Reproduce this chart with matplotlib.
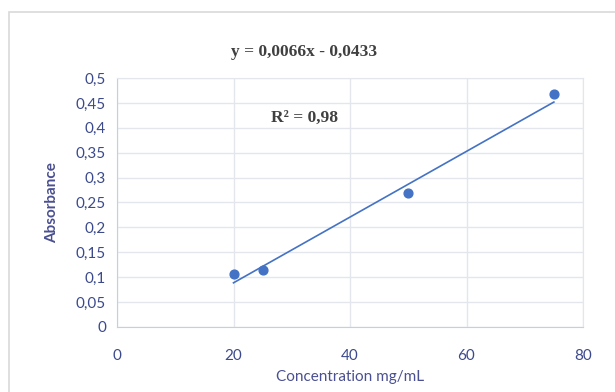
import matplotlib
matplotlib.use("Agg")
import matplotlib.pyplot as plt
from matplotlib.ticker import FuncFormatter, MultipleLocator
from matplotlib.patches import Rectangle

concentration = [20, 25, 50, 75]
absorbance = [0.107, 0.115, 0.270, 0.468]
slope = 0.0066
intercept = -0.0433
r2_label = "R² = 0,98"
eq_label = "y = 0,0066x - 0,0433"
x_label = "Concentration mg/mL"
y_label = "Absorbance"

fig = plt.figure(figsize=(6.15, 3.92), dpi=100)
fig.patches.append(Rectangle((9/615, -0.05), 1.0, 1 - 12/392 + 0.05, transform=fig.transFigure,
                             fill=False, edgecolor="#d9d9d9", linewidth=1.2))
ax = fig.add_axes([117/615, 1 - 327/392, (583-117)/615, (327-78)/392])

blue = "#4472C4"
ax.scatter(concentration, absorbance, s=40, color=blue, zorder=3)
xf = [min(concentration), max(concentration)]
ax.plot(xf, [slope*v + intercept for v in xf], color=blue, linewidth=1.2, zorder=2)

ax.set_xlim(0, 80)
ax.set_ylim(0, 0.5)
ax.xaxis.set_major_locator(MultipleLocator(20))
ax.yaxis.set_major_locator(MultipleLocator(0.05))
fmt = FuncFormatter(lambda v, p: ("%g" % round(v, 4)).replace(".", ","))
ax.xaxis.set_major_formatter(fmt)
ax.yaxis.set_major_formatter(fmt)
ax.grid(True, color="#e3e6ec", linewidth=1.0)
ax.set_axisbelow(True)
for s in ax.spines.values():
    s.set_color("#e3e6ec")
ax.spines["left"].set_color("#c8cde0")
ax.spines["bottom"].set_color("#c8cde0")
tick_color = "#3c4a8c"
ax.tick_params(length=0, labelsize=11, colors=tick_color, pad=8)
ax.tick_params(axis="x", pad=16)
for lab in ax.get_xticklabels() + ax.get_yticklabels():
    lab.set_family("Lato")

ax.set_xlabel(x_label, fontsize=11, color="#4a5090", family="Lato", labelpad=5)
ax.set_ylabel(y_label, fontsize=11, color="#4a5090", family="Lato", fontweight="bold", labelpad=12)

fig.text(304/615, 1 - 52/392, eq_label, ha="center", va="center", fontsize=12.5,
         family="Liberation Serif", fontweight="bold", color="#404040")
ax.text(26.4, 0.42, r2_label, ha="left", va="center", fontsize=12.5,
        family="Liberation Serif", fontweight="bold", color="#404040")

fig.savefig("out.png", dpi=100)
